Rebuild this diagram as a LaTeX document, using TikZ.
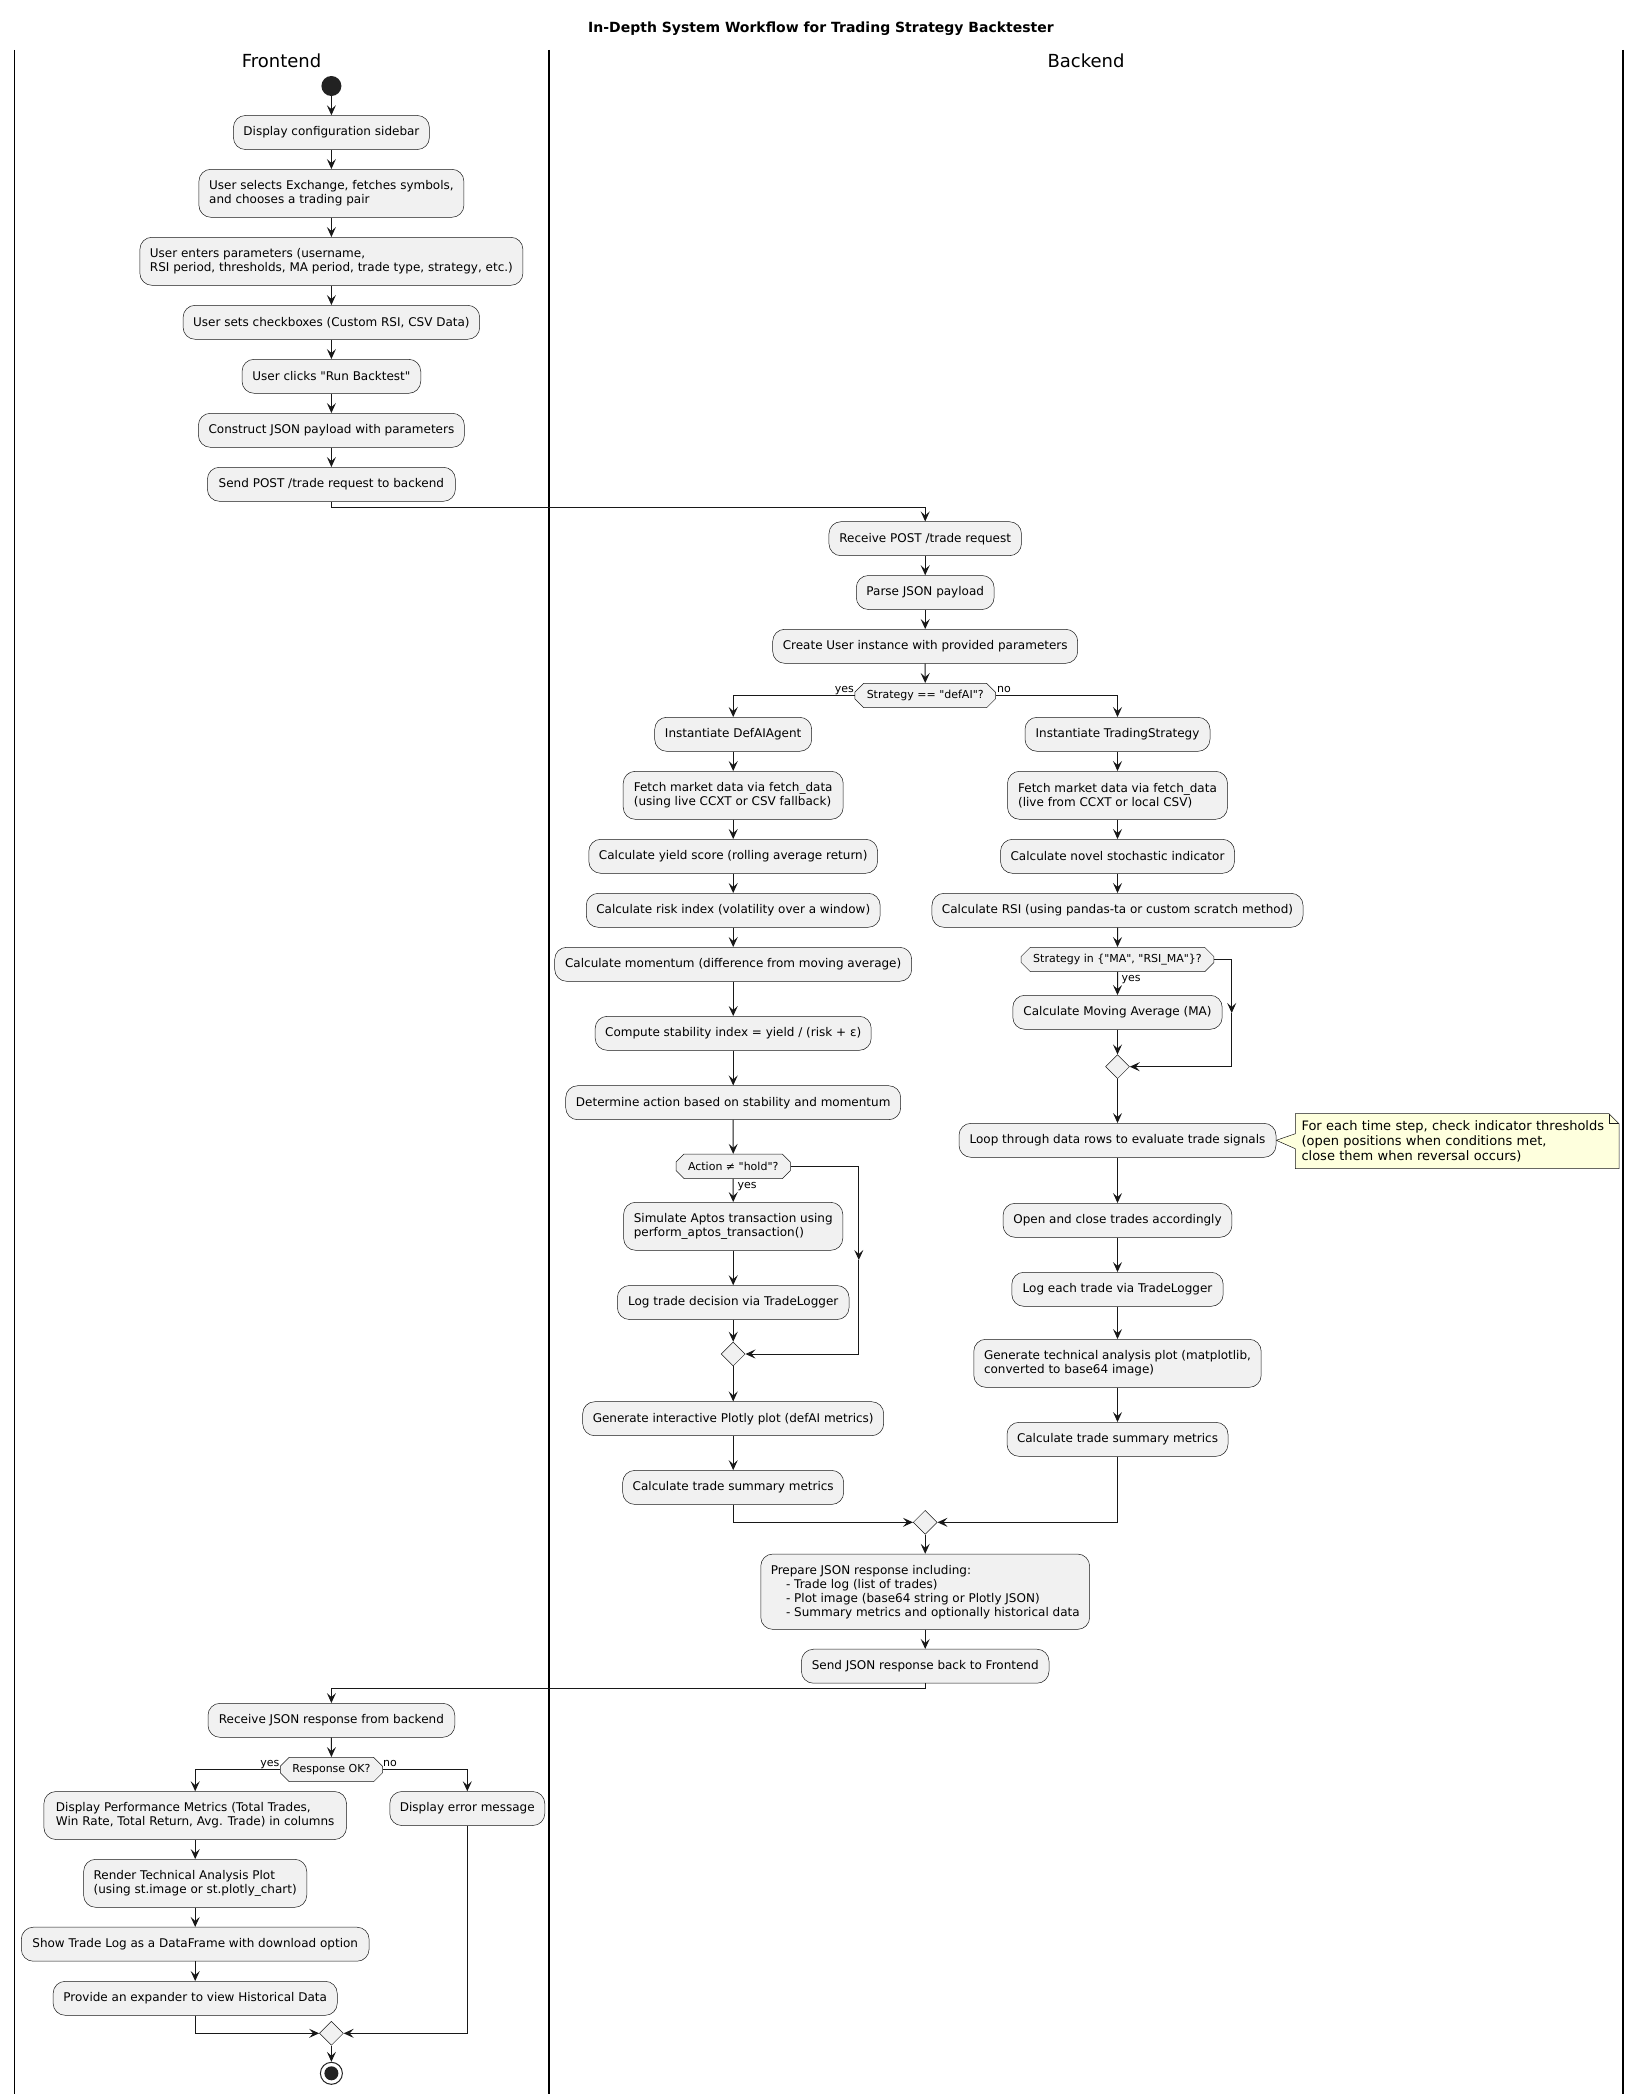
\documentclass[tikz,border=0pt]{standalone}
\usepackage{fontspec}
\setmainfont{DejaVu Sans}[Ligatures=TeXOff]
\usetikzlibrary{arrows.meta,shapes.geometric,shapes.misc,backgrounds}
\definecolor{boxfill}{HTML}{F1F1F1}
\definecolor{ink}{HTML}{181818}
\definecolor{notefill}{HTML}{FEFFDD}
\definecolor{dot}{HTML}{222222}

\begin{document}
\begin{tikzpicture}[x=1pt,y=-1pt,
  every node/.style={font=\fontsize{12pt}{14pt}\selectfont, text=black},
  act/.style={draw=ink, line width=0.5pt, fill=boxfill, rounded corners=12pt,
    inner xsep=10pt, inner ysep=0pt, minimum height=34pt, align=left},
  act2/.style={act, minimum height=48pt},
  test/.style={chamfered rectangle, chamfered rectangle xsep=12pt,
    draw=ink, line width=0.5pt, fill=boxfill, minimum height=24.4pt,
    inner xsep=0pt, inner ysep=0pt, font=\fontsize{11pt}{13pt}\selectfont},
  merge/.style={diamond, draw=ink, line width=0.5pt, fill=boxfill,
    minimum width=24pt, minimum height=24pt, inner sep=0pt},
  flow/.style={draw=ink, line width=1pt, -{Stealth[length=10pt,width=9pt,inset=4pt]}},
  guard/.style={font=\fontsize{11pt}{13pt}\selectfont, inner sep=0pt},
  lane/.style={draw=black, line width=1.5pt},
  lanehead/.style={font=\fontsize{18pt}{21pt}\selectfont},
]
\useasboundingbox (0,0) rectangle (1642,2098);

% title and swimlanes
\node[font=\bfseries\fontsize{14pt}{16pt}\selectfont] (title) at (821,28.3)
  {In-Depth System Workflow for Trading Strategy Backtester};
\draw[lane] (14.5,50) -- (14.5,2094);
\draw[lane] (549,50) -- (549,2094);
\draw[lane] (1623,50) -- (1623,2094);
\node[lanehead] (fehead) at (281.5,61) {Frontend};
\node[lanehead] (behead) at (1086,61) {Backend};

% ---------- Frontend: request ----------
\node[circle, fill=dot, minimum size=20pt, inner sep=0pt] (start) at (331.4,86) {};
\node[act, minimum width=196pt] (b1) at (331.4,132.5) {Display configuration sidebar};
\node[act2, minimum width=265pt] (b2) at (331.4,193.3)
  {User selects Exchange, fetches symbols,\\and chooses a trading pair};
\node[act2, minimum width=383pt] (b3) at (331.4,261.3)
  {User enters parameters (username,\\RSI period, thresholds, MA period, trade type, strategy, etc.)};
\node[act, minimum width=296.6pt] (b4) at (331.4,322.3) {User sets checkboxes (Custom RSI, CSV Data)};
\node[act, minimum width=178.7pt] (b5) at (331.4,376.3) {User clicks "Run Backtest"};
\node[act, minimum width=266pt] (b6) at (331.4,430.3) {Construct JSON payload with parameters};
\node[act, minimum width=248pt] (b7) at (331.4,484.3) {Send POST /trade request to backend};

\draw[flow] (start) -- (b1);
\draw[flow] (b1) -- (b2);
\draw[flow] (b2) -- (b3);
\draw[flow] (b3) -- (b4);
\draw[flow] (b4) -- (b5);
\draw[flow] (b5) -- (b6);
\draw[flow] (b6) -- (b7);

% ---------- Backend: common part ----------
\node[act, minimum width=192.5pt] (rp) at (925.2,538.7) {Receive POST /trade request};
\node[act, minimum width=137.8pt] (pj) at (925.2,592.5) {Parse JSON payload};
\node[act, minimum width=305pt] (cu) at (925.2,646.3) {Create User instance with provided parameters};
\node[test, minimum width=140.8pt] (d1) at (925.2,695.5) {Strategy == "defAI"?};

\draw[flow] (b7.south) -- ++(0,5.7) -| (rp.north);
\draw[flow] (rp) -- (pj);
\draw[flow] (pj) -- (cu);
\draw[flow] (cu) -- (d1);

% ---------- Backend: defAI branch ----------
\node[act, minimum width=157pt] (defai) at (733.2,734.3) {Instantiate DefAIAgent};
\node[act2, minimum width=220pt] (fm1) at (733.2,795.3)
  {Fetch market data via fetch\_data\\(using live CCXT or CSV fallback)};
\node[act, minimum width=288.8pt] (ys) at (733.2,856.3) {Calculate yield score (rolling average return)};
\node[act, minimum width=293.9pt] (ri) at (733.2,910.3) {Calculate risk index (volatility over a window)};
\node[act, minimum width=357pt] (mo) at (733.2,964.3) {Calculate momentum (difference from moving average)};
\node[act, minimum width=276pt] (cs) at (733.2,1033.3) {Compute stability index = yield / (risk + ε)};
\node[act, minimum width=335pt] (da) at (733.2,1102.7) {Determine action based on stability and momentum};
\node[test, minimum width=114.3pt] (d2) at (733.2,1166.3) {Action ≠ "hold"?};
\node[act2, minimum width=219.2pt] (sim) at (733.2,1226.3)
  {Simulate Aptos transaction using\\perform\_aptos\_transaction()};
\node[act, minimum width=231.7pt] (log1) at (733.2,1302.5) {Log trade decision via TradeLogger};
\node[merge] (m2) at (733.2,1354) {};
\node[act, minimum width=301pt] (plotly) at (733.2,1418.7) {Generate interactive Plotly plot (defAI metrics)};
\node[act, minimum width=220.6pt] (sum1) at (733.2,1487.4) {Calculate trade summary metrics};
\coordinate (skipA) at (858.8,1260);

\draw[flow] (d1.west) -| (defai.north);
\node[guard, anchor=base east] (yes1) at (854,692) {yes};
\draw[flow] (defai) -- (fm1);
\draw[flow] (fm1) -- (ys);
\draw[flow] (ys) -- (ri);
\draw[flow] (ri) -- (mo);
\draw[flow] (mo) -- (cs);
\draw[flow] (cs) -- (da);
\draw[flow] (da) -- (d2);
\draw[flow] (d2) -- (sim);
\node[guard, anchor=base west] (yes2) at (737.5,1188) {yes};
\draw[flow] (sim) -- (log1);
\draw[flow] (log1) -- (m2);
\draw[flow] (d2.east) -| (skipA);
\draw[flow] (skipA) |- (m2.east);
\draw[flow] (m2) -- (plotly);
\draw[flow] (plotly) -- (sum1);

% ---------- Backend: trading strategy branch ----------
\node[act, minimum width=185pt] (ts) at (1117.5,734.3) {Instantiate TradingStrategy};
\node[act2, minimum width=220pt] (fm2) at (1117.5,795.3)
  {Fetch market data via fetch\_data\\(live from CCXT or local CSV)};
\node[act, minimum width=234pt] (ns) at (1117.5,856.3) {Calculate novel stochastic indicator};
\node[act, minimum width=370.6pt] (rsi) at (1117.5,910.3) {Calculate RSI (using pandas-ta or custom scratch method)};
\node[test, minimum width=192.6pt] (d3) at (1117.5,959.5) {Strategy in \{"MA", "RSI\_MA"\}?};
\node[act, minimum width=209.4pt] (ma) at (1117.5,1012.3) {Calculate Moving Average (MA)};
\node[merge] (m3) at (1117.5,1066.7) {};
\node[act, minimum width=317pt] (loop) at (1117.5,1140.3) {Loop through data rows to evaluate trade signals};
\node[act, minimum width=228.9pt] (oc) at (1117.5,1220.3) {Open and close trades accordingly};
\node[act, minimum width=211.4pt] (lt) at (1117.5,1289.3) {Log each trade via TradeLogger};
\node[act2, minimum width=287.4pt] (gt) at (1117.5,1363.3)
  {Generate technical analysis plot (matplotlib,\\converted to base64 image)};
\node[act, minimum width=220.6pt] (sum2) at (1117.5,1439.3) {Calculate trade summary metrics};
\coordinate (skipB) at (1231.7,1013);

\draw[flow] (d1.east) -| (ts.north);
\node[guard, anchor=base west] (no1) at (997,692) {no};
\draw[flow] (ts) -- (fm2);
\draw[flow] (fm2) -- (ns);
\draw[flow] (ns) -- (rsi);
\draw[flow] (rsi) -- (d3);
\draw[flow] (d3) -- (ma);
\node[guard, anchor=base west] (yes3) at (1121.5,981) {yes};
\draw[flow] (ma) -- (m3);
\draw[flow] (d3.east) -| (skipB);
\draw[flow] (skipB) |- (m3.east);
\draw[flow] (m3) -- (loop);
\draw[flow] (loop) -- (oc);
\draw[flow] (oc) -- (lt);
\draw[flow] (lt) -- (gt);
\draw[flow] (gt) -- (sum2);

% note attached to the loop step
\node[font=\fontsize{13pt}{15pt}\selectfont, align=left, anchor=north west,
  inner xsep=6pt, inner ysep=0pt, text width=311.3pt, minimum height=54.6pt] (note) at (1295.3,1113.7)
  {For each time step, check indicator thresholds\\(open positions when conditions met,\\close them when reversal occurs)};
\begin{scope}[on background layer]
  \path[fill=notefill, draw=ink, line width=0.5pt]
    (note.north west) -- ([xshift=-10pt]note.north east) -- ([yshift=-10pt]note.north east)
    -- (note.south east) -- (note.south west) -- ([yshift=-7.5pt]note.west)
    -- (loop.east) -- ([yshift=7.5pt]note.west) -- cycle;
  \draw[ink, line width=0.5pt] ([xshift=-10pt]note.north east) -- ([xshift=-10pt,yshift=-10pt]note.north east)
    -- ([yshift=-10pt]note.north east);
\end{scope}

% ---------- Backend: response ----------
\node[merge] (m4) at (925.2,1522.3) {};
\node[act, minimum width=328.6pt, minimum height=75.3pt] (pr) at (925.2,1591.7)
  {Prepare JSON response including:\\
   \hspace*{15.3pt}- Trade log (list of trades)\\
   \hspace*{15.3pt}- Plot image (base64 string or Plotly JSON)\\
   \hspace*{15.3pt}- Summary metrics and optionally historical data};
\node[act, minimum width=247.6pt] (sj) at (925.2,1666.2) {Send JSON response back to Frontend};

\draw[flow] (sum1.south) |- (m4.west);
\draw[flow] (sum2.south) |- (m4.east);
\draw[flow] (m4) -- (pr);
\draw[flow] (pr) -- (sj);

% ---------- Frontend: result display ----------
\node[act, minimum width=246.8pt] (rj) at (331.4,1720.3) {Receive JSON response from backend};
\node[test, minimum width=102.2pt] (d4) at (331.4,1769.5) {Response OK?};
\node[act2, minimum width=302.6pt] (dp) at (195.2,1815.5)
  {Display Performance Metrics (Total Trades,\\Win Rate, Total Return, Avg. Trade) in columns};
\node[act, minimum width=155pt] (em) at (467.3,1808.5) {Display error message};
\node[act2, minimum width=223.1pt] (rt) at (195.2,1883.3)
  {Render Technical Analysis Plot\\(using st.image or st.plotly\_chart)};
\node[act, minimum width=347.8pt] (st) at (195.2,1944.2) {Show Trade Log as a DataFrame with download option};
\node[act, minimum width=284.1pt] (pe) at (195.2,1998.3) {Provide an expander to view Historical Data};
\node[merge] (m5) at (331.4,2033.3) {};
\node[circle, draw=dot, line width=1pt, fill=white, minimum size=22pt, inner sep=0pt,
  path picture={\fill[dot] (path picture bounding box.center) circle (7pt);}] (stop) at (331.4,2073.3) {};

\draw[flow] (sj.south) -- ++(0,5) -| (rj.north);
\draw[flow] (rj) -- (d4);
\draw[flow] (d4.west) -| (dp.north);
\node[guard, anchor=base east] (yes4) at (279.5,1766) {yes};
\draw[flow] (d4.east) -| (em.north);
\node[guard, anchor=base west] (no4) at (383,1766) {no};
\draw[flow] (dp) -- (rt);
\draw[flow] (rt) -- (st);
\draw[flow] (st) -- (pe);
\draw[flow] (pe.south) |- (m5.west);
\draw[flow] (em.south) |- (m5.east);
\draw[flow] (m5) -- (stop);

\end{tikzpicture}
\end{document}
